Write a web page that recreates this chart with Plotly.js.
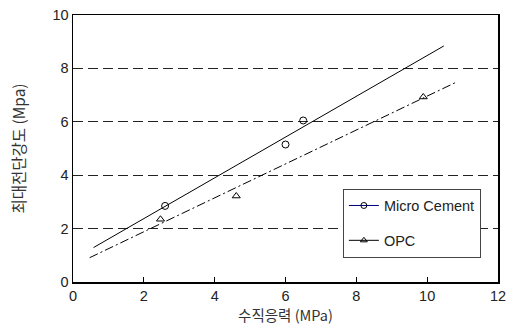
<!DOCTYPE html>
<html>
<head>
<meta charset="utf-8">
<script src="https://cdn.plot.ly/plotly-3.0.1.min.js"></script>
<style>html,body{margin:0;padding:0;background:#fff;}#chart{width:515px;height:330px;}</style>
</head>
<body>
<div id="chart"></div>
<script>
// Measured points
const mcX = [2.6, 6.0, 6.5];
const mcY = [2.85, 5.15, 6.05];
const opcX = [2.47, 4.61, 9.89];
const opcY = [2.35, 3.22, 6.93];
// Fitted trend lines (endpoints)
const mcFitX = [0.58, 10.47];
const mcFitY = [1.29, 8.84];
const opcFitX = [0.47, 10.8];
const opcFitY = [0.91, 7.47];
const seriesNames = ['Micro Cement', 'OPC'];
const xTitle = '수직응력 (MPa)';
const yTitle = '최대전단강도 (Mpa)';

const fontFam = 'Liberation Sans, Arial, Noto Sans CJK KR, sans-serif';
const krFam = 'Noto Sans CJK KR, sans-serif';

const traces = [
  {x: mcFitX, y: mcFitY, mode: 'lines', line: {color: '#000', width: 1}, showlegend: false, hoverinfo: 'skip'},
  {x: opcFitX, y: opcFitY, mode: 'lines', line: {color: '#000', width: 1, dash: '9px,3px,2px,3px'}, showlegend: false, hoverinfo: 'skip'},
  {x: mcX, y: mcY, mode: 'markers', marker: {symbol: 'circle-open', size: 7, color: '#000', line: {width: 1}}, showlegend: false},
  {x: opcX, y: opcY, mode: 'markers', marker: {symbol: 'triangle-up-open', size: 7, color: '#000', line: {width: 1}}, showlegend: false},
  {x: [null], y: [null], name: seriesNames[0], legendgroup: 'a', mode: 'lines+markers',
   line: {color: '#000080', width: 1}, marker: {symbol: 'circle-open', size: 6, color: '#000', line: {width: 1}}},
  {x: [null], y: [null], name: seriesNames[1], legendgroup: 'b', mode: 'lines+markers',
   line: {color: '#000', width: 1}, marker: {symbol: 'triangle-up-open', size: 6, color: '#000', line: {width: 1}}}
];

const layout = {
  width: 515, height: 330,
  margin: {l: 73, r: 17, t: 15, b: 48},
  paper_bgcolor: '#fff', plot_bgcolor: '#fff',
  font: {family: fontFam, size: 14, color: '#222'},
  showlegend: true,
  xaxis: {
    range: [0, 12], dtick: 2, tick0: 0,
    showgrid: false, zeroline: false,
    showline: true, linecolor: '#000', linewidth: 1.5, mirror: true,
    ticks: 'inside', ticklen: 5, tickcolor: '#000', tickwidth: 1,
    tickfont: {size: 14.5, family: fontFam, color: '#222'},
    title: {text: xTitle, font: {size: 14.5, family: krFam, color: '#333'}, standoff: 4}
  },
  yaxis: {
    range: [0, 10], dtick: 2, tick0: 0,
    showgrid: true, gridcolor: '#222', gridwidth: 1, griddash: '10px,5px',
    zeroline: false,
    showline: true, linecolor: '#000', linewidth: 1.5, mirror: true,
    ticks: '', ticklen: 0,
    tickfont: {size: 14.5, family: fontFam, color: '#222'},
    title: {text: yTitle, font: {size: 15.5, family: krFam, color: '#333'}, standoff: 23}
  },
  legend: {
    x: 0.635, y: 0.35, xanchor: 'left', yanchor: 'top',
    bgcolor: '#fff', bordercolor: '#444', borderwidth: 1,
    font: {size: 14.5, family: fontFam, color: '#222'},
    traceorder: 'grouped', tracegroupgap: 13,
    itemwidth: 30
  }
};

Plotly.newPlot('chart', traces, layout, {staticPlot: true, displayModeBar: false});
</script>
</body>
</html>
